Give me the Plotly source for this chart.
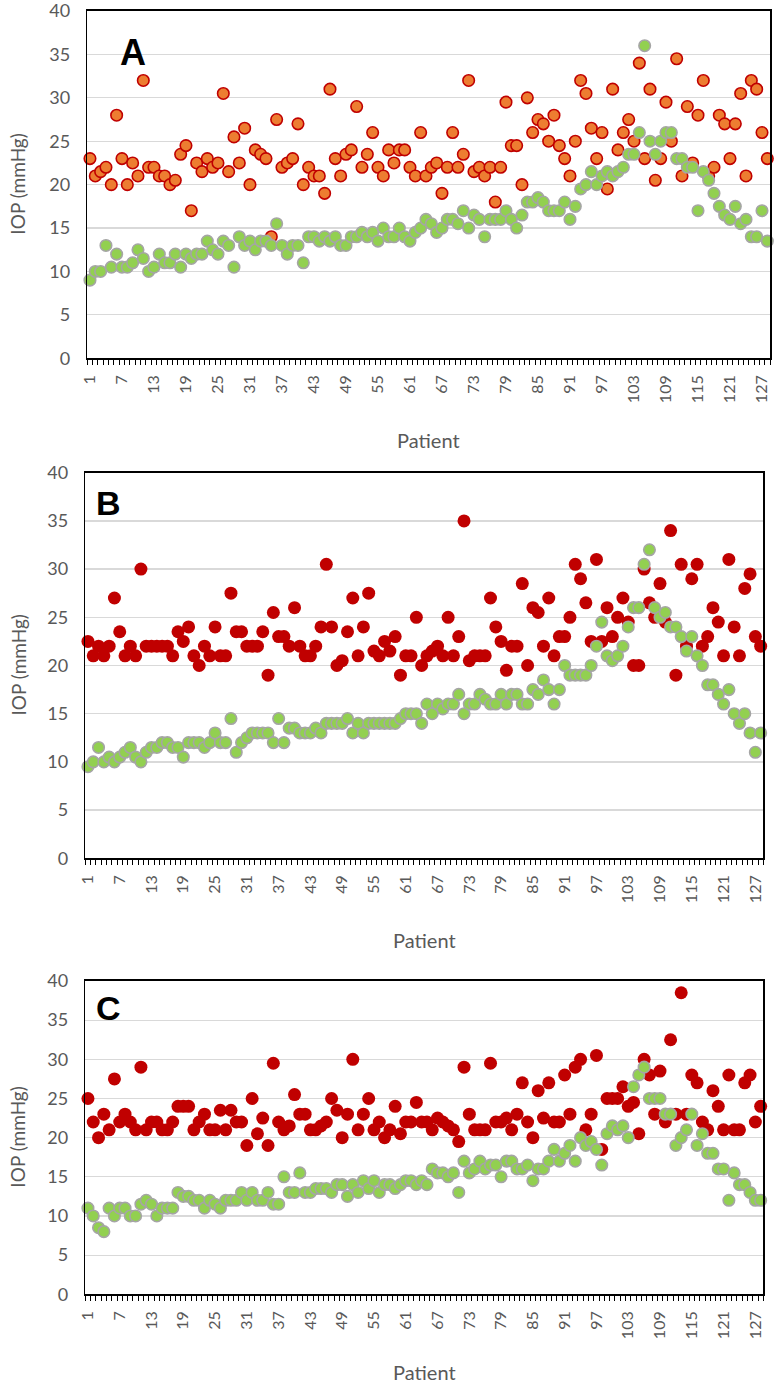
import plotly.graph_objects as go

# ---------------- data ----------------
patients = list(range(1, 129))

A_high = [23, 21, 21.5, 22, 20, 28, 23, 20, 22.5, 21, 32, 22, 22, 21, 21, 20, 20.5, 23.5, 24.5, 17,
          22.5, 21.5, 23, 22, 22.5, 30.5, 21.5, 25.5, 22.5, 26.5, 20, 24, 23.5, 23, 14, 27.5, 22, 22.5, 23, 27,
          20, 22, 21, 21, 19, 31, 23, 21, 23.5, 24, 29, 22, 23.5, 26, 22, 21, 24, 22.5, 24, 24,
          22, 21, 26, 21, 22, 22.5, 19, 22, 26, 22, 23.5, 32, 21.5, 22, 21, 22, 18, 22, 29.5, 24.5,
          24.5, 20, 30, 26, 27.5, 27, 25, 28, 24.5, 23, 21, 25, 32, 30.5, 26.5, 23, 26, 19.5, 31, 24,
          26, 27.5, 25, 34, 23, 31, 20.5, 23, 29.5, 25, 34.5, 21, 29, 22.5, 28, 32, 21, 22, 28, 27,
          23, 27, 30.5, 21, 32, 31, 26, 23]
A_low = [9, 10, 10, 13, 10.5, 12, 10.5, 10.5, 11, 12.5, 11.5, 10, 10.5, 12, 11, 11, 12, 10.5, 12, 11.5,
         12, 12, 13.5, 12.5, 12, 13.5, 13, 10.5, 14, 13, 13.5, 12.5, 13.5, 13.5, 13, 15.5, 13, 12, 13, 13,
         11, 14, 14, 13.5, 14, 13.5, 14, 13, 13, 14, 14, 14.5, 14, 14.5, 13.5, 15, 14, 14, 15, 14,
         13.5, 14.5, 15, 16, 15.5, 14.5, 15, 16, 16, 15.5, 17, 15, 16.5, 16, 14, 16, 16, 16, 17, 16,
         15, 16.5, 18, 18, 18.5, 18, 17, 17, 17, 18, 16, 17.5, 19.5, 20, 21.5, 20, 21, 21.5, 21, 21.5,
         22, 23.5, 23.5, 26, 36, 25, 23.5, 25, 26, 26, 23, 23, 22, 22, 17, 21.5, 20.5, 19, 17.5, 16.5,
         16, 17.5, 15.5, 16, 14, 14, 17, 13.5]

B_high = [22.5, 21, 22, 21, 22, 27, 23.5, 21, 22, 21, 30, 22, 22, 22, 22, 22, 21, 23.5, 22.5, 24,
          21, 20, 22, 21, 24, 21, 21, 27.5, 23.5, 23.5, 22, 22, 22, 23.5, 19, 25.5, 23, 23, 22, 26,
          22, 21, 21, 22, 24, 30.5, 24, 20, 20.5, 23.5, 27, 21, 24, 27.5, 21.5, 21, 22.5, 21.5, 23, 19,
          21, 21, 25, 20, 21, 21.5, 22, 21, 25, 21, 23, 35, 20.5, 21, 21, 21, 27, 24, 22.5, 19.5,
          22, 22, 28.5, 20, 26, 25.5, 22, 27, 21, 23, 23, 25, 30.5, 29, 26.5, 22.5, 31, 22.5, 26, 23,
          25, 27, 24.5, 20, 20, 30, 26.5, 25, 28.5, 24.5, 34, 19, 30.5, 22, 29, 30.5, 22, 23, 26, 24.5,
          21, 31, 24, 21, 28, 29.5, 23, 22]
B_low = [9.5, 10, 11.5, 10, 10.5, 10, 10.5, 11, 11.5, 10.5, 10, 11, 11.5, 11.5, 12, 12, 11.5, 11.5, 10.5, 12,
         12, 12, 11.5, 12, 13, 12, 12, 14.5, 11, 12, 12.5, 13, 13, 13, 13, 12, 14.5, 12, 13.5, 13.5,
         13, 13, 13, 13.5, 13, 14, 14, 14, 14, 14.5, 13, 14, 13, 14, 14, 14, 14, 14, 14, 14.5,
         15, 15, 15, 14, 16, 15, 16, 15.5, 16, 16, 17, 15, 16, 16, 17, 16.5, 16, 16, 17, 16,
         17, 17, 16, 16, 17.5, 17, 18.5, 17.5, 16, 17.5, 20, 19, 19, 19, 19, 20, 22, 24.5, 21, 20.5,
         21, 22, 24, 26, 26, 30.5, 32, 26, 25, 25.5, 24, 24, 23, 21.5, 23, 21, 20, 18, 18, 17,
         16, 17.5, 15, 14, 15, 13, 11, 13]

C_high = [25, 22, 20, 23, 21, 27.5, 22, 23, 22, 21, 29, 21, 22, 22, 21, 21, 22, 24, 24, 24,
          21, 22, 23, 21, 21, 23.5, 21, 23.5, 22, 22, 19, 25, 20.5, 22.5, 19, 29.5, 22, 21, 21.5, 25.5,
          23, 23, 21, 21, 21.5, 22, 25, 23.5, 20, 23, 30, 21, 23, 25, 21, 22, 20, 21, 24, 20.5,
          22, 22, 24.5, 22, 22, 21, 22.5, 22, 21.5, 21, 19.5, 29, 23, 21, 21, 21, 29.5, 22, 22, 22.5,
          21, 23, 27, 22, 20, 26, 22.5, 27, 22, 22, 28, 23, 29, 30, 21, 23, 30.5, 18.5, 25, 25,
          25, 26.5, 24, 24.5, 20.5, 30, 28, 23, 28.5, 22, 32.5, 23, 38.5, 23, 28, 27, 22, 21, 26, 24,
          21, 28, 21, 21, 27, 28, 22, 24]
C_low = [11, 10, 8.5, 8, 11, 10, 11, 11, 10, 10, 11.5, 12, 11.5, 10, 11, 11, 11, 13, 12.5, 12.5,
         12, 12, 11, 12, 11.5, 11, 12, 12, 12, 13, 12, 13, 12, 12, 13, 11.5, 11.5, 15, 13, 13,
         15.5, 13, 13, 13.5, 13.5, 13.5, 13, 14, 14, 12.5, 14, 13, 14.5, 13.5, 14.5, 13, 14, 14, 13.5, 14,
         14.5, 14.5, 14, 14.5, 14, 16, 15.5, 15.5, 15, 15.5, 13, 17, 15.5, 16, 17, 16, 16.5, 16.5, 15, 17,
         17, 16, 16, 16.5, 14.5, 16, 16, 17, 18.5, 17, 18, 19, 17, 20, 19, 19.5, 18.5, 16.5, 20.5, 21.5,
         21, 21.5, 20, 26.5, 28, 29, 25, 25, 25, 23, 23, 19, 20, 21, 23, 19, 20.5, 18, 18, 16,
         16, 12, 15.5, 14, 14, 13, 12, 12]

tick_patients = list(range(1, 128, 6))
y_ticks = [0, 5, 10, 15, 20, 25, 30, 35, 40]
panel_letters = ["A", "B", "C"]

# ---------------- layout constants (pixels) ----------------
W, H = 779, 1387
panels = [
    dict(x0=87.3, x1=770.0, y0=11.0, y1=358.3, high=A_high, low=A_low, style="A"),
    dict(x0=85.3, x1=763.3, y0=472.7, y1=858.3, high=B_high, low=B_low, style="B"),
    dict(x0=85.3, x1=763.3, y0=981.0, y1=1294.3, high=C_high, low=C_low, style="C"),
]
letter_pos = [(133, 52, 36), (108, 503, 34), (108, 1008, 34)]
patient_label_y = [440, 940, 1372]

GRAY_TXT = "#595959"
FONT = "Lato, 'Open Sans', sans-serif"

fig = go.Figure()
annotations = []

for k, p in enumerate(panels):
    sfx = "" if k == 0 else str(k + 1)
    xa, ya = "x" + sfx, "y" + sfx
    if p["style"] == "A":
        red_marker = dict(color="#ED7D31", size=11.5, line=dict(color="#C00000", width=1.6))
    else:
        red_marker = dict(color="#C00000", size=13, line=dict(color="#C00000", width=0))
    green_marker = dict(color="#92D050", size=11.5, line=dict(color="#A5A5A5", width=1.6))

    fig.add_trace(go.Scatter(x=patients, y=p["high"], mode="markers", marker=red_marker,
                             xaxis=xa, yaxis=ya, showlegend=False, cliponaxis=False, hoverinfo="skip"))
    fig.add_trace(go.Scatter(x=patients, y=p["low"], mode="markers", marker=green_marker,
                             xaxis=xa, yaxis=ya, showlegend=False, cliponaxis=False, hoverinfo="skip"))

    xdom = [p["x0"] / W, p["x1"] / W]
    ydom = [1 - p["y1"] / H, 1 - p["y0"] / H]

    fig.update_layout(**{
        "xaxis" + sfx: dict(
            domain=xdom, anchor=ya, range=[0.5, 128.5], automargin=False,
            tickmode="array", tickvals=tick_patients, ticktext=[str(t) for t in tick_patients],
            tickangle=-90, ticks="", ticklabelstandoff=9, ticklabeloverflow="allow",
            tickfont=dict(family=FONT, size=16, color=GRAY_TXT),
            minor=dict(ticks="outside", tickmode="linear", tick0=0.5, dtick=1,
                       ticklen=5, tickcolor="#000000", tickwidth=1, showgrid=False),
            showgrid=False, zeroline=False, fixedrange=True,
            showline=True, linecolor="#000000", linewidth=1.6, mirror=True,
        ),
        "yaxis" + sfx: dict(
            domain=ydom, anchor=xa, range=[0, 40], automargin=False,
            tickmode="array", tickvals=y_ticks, ticks="", ticklabelstandoff=12,
            ticklabeloverflow="allow",
            tickfont=dict(family=FONT, size=18, color=GRAY_TXT),
            showgrid=True, gridcolor="#D9D9D9", gridwidth=1.2, zeroline=False, fixedrange=True,
            showline=True, linecolor="#000000", linewidth=1.6, mirror=True,
        ),
    })

    # y-axis title
    annotations.append(dict(
        x=18 / W, y=1 - ((p["y0"] + p["y1"]) / 2) / H, xref="paper", yref="paper",
        text="IOP (mmHg)", textangle=-90, showarrow=False,
        font=dict(family=FONT, size=19, color=GRAY_TXT), xanchor="center", yanchor="middle"))
    # x-axis title
    annotations.append(dict(
        x=((p["x0"] + p["x1"]) / 2) / W, y=1 - patient_label_y[k] / H, xref="paper", yref="paper",
        text="Patient", showarrow=False,
        font=dict(family=FONT, size=20, color=GRAY_TXT), xanchor="center", yanchor="middle"))
    # panel letter
    lx, ly, ls = letter_pos[k]
    annotations.append(dict(
        x=lx / W, y=1 - ly / H, xref="paper", yref="paper",
        text="<b>" + panel_letters[k] + "</b>", showarrow=False,
        font=dict(family="Liberation Sans, Arial, sans-serif", size=ls, color="#000000"),
        xanchor="center", yanchor="middle"))

fig.update_layout(
    width=W, height=H, margin=dict(l=0, r=0, t=0, b=0, autoexpand=False),
    plot_bgcolor="white", paper_bgcolor="white", showlegend=False,
    hovermode=False, annotations=annotations,
)

fig.write_html("out.html", config={"displayModeBar": False, "staticPlot": True},
               post_script="document.body.style.margin='0';document.body.style.padding='0';")
